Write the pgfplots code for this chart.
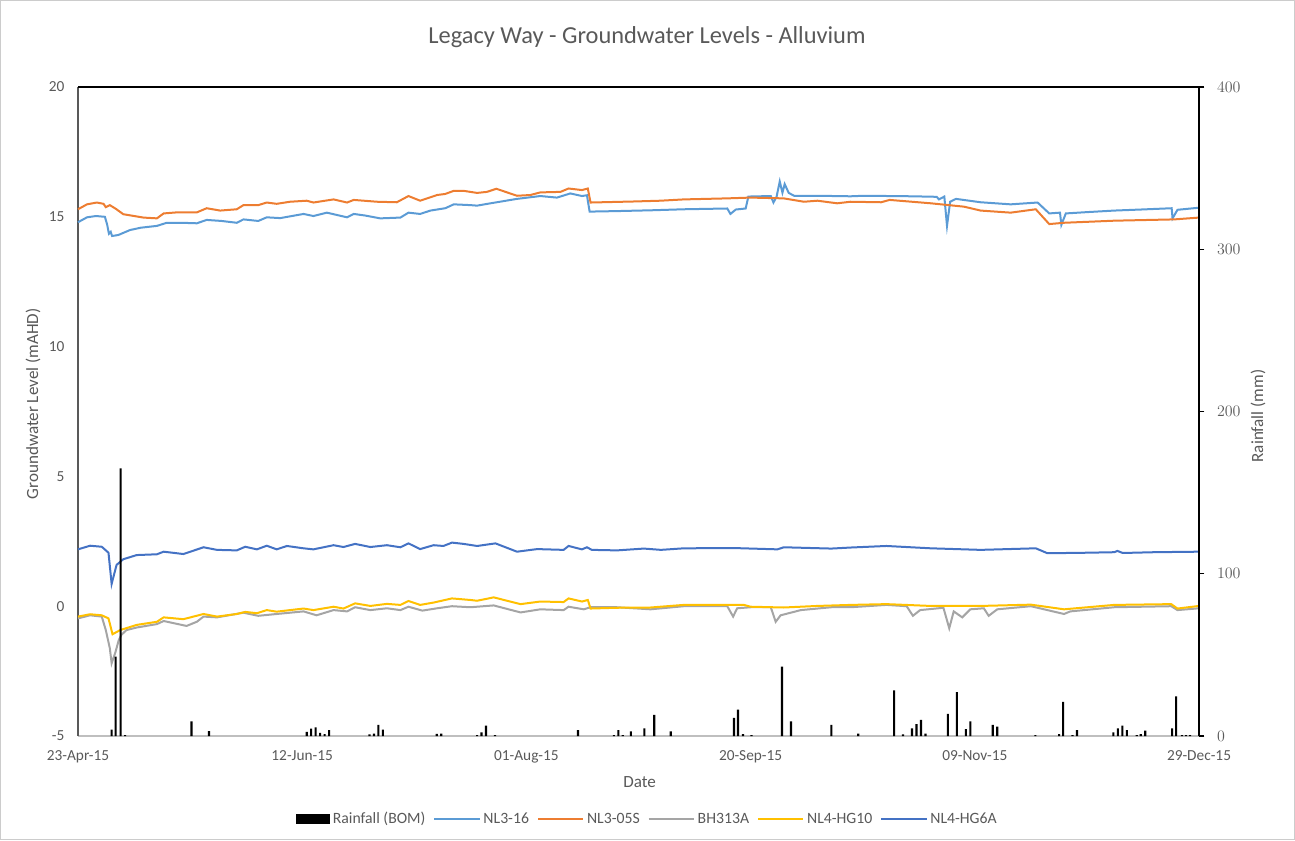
\documentclass[border=0pt]{standalone}
\usepackage{fontspec}
\setmainfont{Carlito}
\usepackage{pgfplots}
\pgfplotsset{compat=1.18}

\definecolor{txt}{HTML}{595959}
\definecolor{cNLa}{HTML}{5B9BD5}
\definecolor{cNLb}{HTML}{ED7D31}
\definecolor{cBH}{HTML}{A5A5A5}
\definecolor{cHGa}{HTML}{FFC000}
\definecolor{cHGb}{HTML}{4472C4}

\pgfplotsset{
  gw/.style={line width=1.5pt},
  lineleg/.style={legend image code/.code={\draw[##1] (0pt,0pt) -- (34pt,0pt);}},
}

\begin{document}
\begin{tikzpicture}
\useasboundingbox (-58.5pt,-78pt) rectangle (912.75pt,552pt);

% groundwater levels, left axis
\begin{axis}[
  scale only axis, width=840.75pt, height=486.75pt,
  xmin=0, xmax=250, ymin=-5, ymax=20,
  axis x line*=bottom, axis y line*=left,
  x axis line style={draw=black!25, line width=0.9pt, -},
  y axis line style={draw=black!65, line width=1pt, -},
  xtick={0,50,100,150,200,250},
  xticklabels={23-Apr-15,12-Jun-15,01-Aug-15,20-Sep-15,09-Nov-15,29-Dec-15},
  ytick={-5,0,5,10,15,20},
  yticklabels={-5,0,5,10,15,20},
  major tick length=0pt,
  tick label style={font=\fontsize{11.5}{13}\selectfont, text=txt},
  xticklabel style={yshift=-7.5pt},
  yticklabel style={xshift=-6.7pt},
  xlabel={Date},
  xlabel style={at={(axis description cs:0.501,-0.0709)}, anchor=center, font=\fontsize{12.8}{14}\selectfont, text=txt},
  ylabel={Groundwater Level (mAHD)},
  ylabel style={at={(axis description cs:-0.0401,0.5116)}, anchor=center, rotate=0, font=\fontsize{12.8}{14}\selectfont, text=txt},
  title={Legacy Way - Groundwater Levels - Alluvium},
  title style={at={(axis description cs:0.5076,1.0647)}, anchor=center, font=\fontsize{18.3}{21}\selectfont, text=txt},
  clip=false,
]
% NL3-16
\addplot[gw, cNLa] coordinates {
(0,14.79) (2,14.98) (4,15.03) (6,15.0) (6.5,14.7) (6.9,14.35) (7.3,14.42) (7.6,14.26) (9,14.3)
(11.6,14.49) (14,14.58) (17.6,14.65) (19.8,14.77) (23,14.77) (26.5,14.75) (28.7,14.88) (32,14.84)
(35.4,14.77) (36.9,14.90) (40.2,14.84) (42.1,14.98) (45.1,14.95) (50.3,15.11) (52.5,15.03)
(55.5,15.16) (60,14.98) (61.5,15.11) (64,15.05) (67.4,14.94) (71.9,14.97) (73.7,15.16) (76.3,15.11)
(78.6,15.24) (81.9,15.33) (83.8,15.48) (87.5,15.45) (89,15.43) (92,15.52) (97.9,15.69)
(103.1,15.80) (106.8,15.74) (109.8,15.90) (112.4,15.80) (113.5,15.83) (114.1,15.20) (120.2,15.22)
(127.7,15.25) (135.1,15.29) (144.8,15.32) (145.5,15.11) (146.7,15.28) (148.9,15.32) (149.5,15.78)
(154.5,15.80) (155.1,15.55) (155.8,15.78) (156.5,16.36) (157.1,15.93) (157.6,16.26) (158.5,15.92)
(159.7,15.81) (164.9,15.81) (172.3,15.79) (175.3,15.81) (181,15.80) (186,15.79) (191.5,15.77)
(192,15.67) (193.2,15.78) (193.8,14.65) (194.5,15.58) (195.8,15.69) (201.3,15.56) (208,15.48)
(214,15.55) (216.6,15.13) (219,15.16) (219.3,14.69) (220.3,15.13) (225,15.18) (231.1,15.24)
(237,15.28) (243.9,15.33) (244.1,14.94) (245.2,15.27) (250,15.35)
};
% NL3-05S
\addplot[gw, cNLb] coordinates {
(0,15.29) (2,15.48) (4.2,15.55) (5.7,15.50) (6.2,15.37) (7.1,15.45) (8.5,15.30) (10.1,15.10)
(14.6,14.97) (17.6,14.94) (19.1,15.13) (22,15.17) (26.5,15.17) (28.7,15.33) (31.7,15.24)
(35.4,15.29) (36.9,15.45) (40.2,15.45) (42.1,15.55) (44.3,15.50) (47.3,15.58) (51,15.62)
(52.5,15.55) (57,15.67) (60,15.55) (61.5,15.65) (66.7,15.58) (71.1,15.56) (73.7,15.80)
(76.3,15.62) (80.1,15.84) (81.9,15.88) (83.8,16.00) (86,16.00) (89,15.92) (91.2,15.96)
(93.3,16.08) (97.9,15.81) (100.9,15.84) (103.1,15.94) (107.6,15.96) (109.4,16.09) (112.4,16.03)
(113.7,16.09) (114.3,15.55) (124,15.59) (129.9,15.62) (135.1,15.67) (144.8,15.71) (150,15.74)
(157.4,15.71) (161.9,15.58) (164.9,15.62) (169.3,15.52) (172.3,15.58) (179.1,15.56) (181,15.65)
(190.2,15.52) (197.6,15.39) (201.3,15.24) (208,15.16) (213.6,15.29) (216.6,14.72) (219.9,14.77)
(231.1,14.85) (244.5,14.90) (250,14.97)
};
% BH313A
\addplot[gw, cBH] coordinates {
(0,-0.47) (2.7,-0.35) (5.3,-0.40) (6.2,-0.92) (7.1,-1.62) (7.5,-2.20) (8.3,-1.80) (9.1,-1.30)
(9.7,-1.10) (10.8,-0.92) (13.1,-0.82) (17.6,-0.69) (19.1,-0.57) (24.2,-0.76) (26.5,-0.60)
(28,-0.40) (31,-0.43) (36.9,-0.25) (40.2,-0.37) (44.3,-0.30) (50.3,-0.20) (53.2,-0.35)
(57,-0.15) (60,-0.20) (61.8,-0.04) (65.2,-0.15) (68.9,-0.08) (71.9,-0.15) (73.7,-0.02)
(76.8,-0.17) (80.1,-0.08) (83.4,0.00) (87.5,-0.04) (92.7,0.03) (98.7,-0.24) (103.1,-0.12)
(108.3,-0.15) (109.4,-0.02) (112.8,-0.12) (114.3,-0.04) (120.2,-0.04) (127.7,-0.12) (135.1,0.00)
(144.8,0.00) (146.1,-0.40) (147,-0.08) (150,-0.04) (154.5,-0.04) (155.6,-0.60) (156.7,-0.35)
(161.2,-0.15) (168,-0.04) (172.3,-0.04) (180.3,0.05) (184.8,0.00) (186.2,-0.37) (187.8,-0.15)
(193,-0.06) (194.3,-0.85) (195.3,-0.20) (197.2,-0.43) (199,-0.12) (202,-0.08) (203.1,-0.37)
(205,-0.12) (212.5,0.00) (219.9,-0.30) (221.3,-0.20) (231.1,-0.04) (243.8,0.00) (245.2,-0.15)
(250,-0.08)
};
% NL4-HG10
\addplot[gw, cHGa] coordinates {
(0,-0.40) (2.7,-0.31) (5.3,-0.35) (6.8,-0.47) (7.7,-1.08) (9.4,-0.92) (13.1,-0.72) (17.6,-0.60)
(19.1,-0.43) (23.5,-0.50) (28,-0.30) (31,-0.40) (35.4,-0.30) (37.3,-0.22) (39.9,-0.27)
(42.1,-0.15) (44.3,-0.21) (50.3,-0.09) (52.5,-0.15) (57,-0.02) (59.2,-0.09) (61.8,0.11)
(65.2,0.01) (68.9,0.09) (71.9,0.05) (73.7,0.20) (76.3,0.05) (79.3,0.14) (83.4,0.30) (87.5,0.24)
(89,0.21) (92.7,0.34) (98.7,0.08) (103.1,0.18) (108.3,0.16) (109.4,0.30) (112.4,0.18)
(113.7,0.24) (114.3,-0.09) (120.2,-0.06) (127.7,-0.05) (135.1,0.05) (148.5,0.05) (150,-0.02)
(157.4,-0.05) (164.9,0.01) (172.3,0.05) (180.3,0.08) (190.2,0.01) (201.3,0.01) (212.5,0.06)
(219.9,-0.12) (231.1,0.05) (243.8,0.08) (245.2,-0.09) (250,0.01)
};
% NL4-HG6A
\addplot[gw, cHGb] coordinates {
(0,2.19) (2.7,2.33) (5.3,2.29) (6.8,2.06) (7.5,0.86) (8.6,1.59) (10.1,1.81) (13.1,1.97)
(17.6,2.00) (19.1,2.10) (23.5,2.01) (28,2.27) (31,2.17) (35.4,2.15) (37.3,2.29) (39.9,2.19)
(42.1,2.33) (44.3,2.19) (46.6,2.32) (50.3,2.23) (52.5,2.19) (57,2.35) (59.2,2.28) (61.8,2.40)
(65.2,2.28) (68.9,2.35) (71.9,2.27) (73.7,2.42) (76.3,2.20) (79.3,2.35) (81.5,2.32) (83.4,2.45)
(86,2.40) (89,2.32) (93.1,2.42) (97.9,2.10) (102.4,2.20) (108.3,2.17) (109.4,2.32) (112.4,2.19)
(113.5,2.27) (114.6,2.17) (120.2,2.15) (126.2,2.22) (130,2.17) (135.1,2.23) (146.3,2.24)
(156,2.19) (157.4,2.27) (168,2.22) (172.3,2.26) (180.3,2.32) (190.2,2.23) (201.3,2.17)
(213.6,2.23) (216.2,2.04) (225,2.06) (231.1,2.08) (231.8,2.13) (233,2.05) (240,2.08) (250,2.10)
};
\end{axis}

% rainfall, right axis
\begin{axis}[
  scale only axis, width=840.75pt, height=486.75pt,
  xmin=0, xmax=250, ymin=0, ymax=400,
  axis x line=none, axis y line*=right,
  y axis line style={draw=black, line width=1.6pt, -},
  ytick={0,100,200,300,400},
  tick align=outside, major tick length=4pt,
  tick style={black, line width=0.8pt},
  yticklabel style={font=\fontsize{11.5}{13}\selectfont, text=txt, xshift=6pt},
  ylabel={Rainfall (mm)},
  ylabel style={at={(axis description cs:1.0526,0.493)}, anchor=center, rotate=0, font=\fontsize{12.8}{14}\selectfont, text=txt},
  legend columns=6,
  legend style={at={(axis description cs:0.508,-0.128)}, anchor=center, draw=none, fill=none,
    font=\fontsize{11.8}{13}\selectfont, text=txt,
    /tikz/every even column/.append style={column sep=4pt}},
  clip=false,
]
\addplot[ybar, bar width=1.6pt, fill=black, draw=none,
  legend image code/.code={\fill[black] (0pt,-3.5pt) rectangle (26pt,3.5pt);}] coordinates {
(7.5,4) (8.4,49) (9.5,165) (10.5,0.5) (25.3,9) (29.2,3) (51,2.5) (52,4.5) (53,5.3) (54,2)
(55,1.2) (56,3.7) (65,1) (66,1.5) (67,6.8) (68,4) (80,1.3) (81,1.5) (89,0.5) (90,2.3) (91,6.4)
(93,0.5) (111.5,3.7) (119.5,0.5) (120.5,3.7) (121.5,0.5) (123.3,2.9) (126.3,4.7) (128.5,13.1)
(132.2,2.9) (146.3,11.1) (147.2,16.2) (148.3,1.2) (150.2,0.5) (157,42.7) (159,9) (168,6.8)
(174,1.5) (182,28.2) (184,1) (186,4.7) (187,7.4) (188,9.9) (189,1.5) (194,13.6) (196,27.1)
(198,4.3) (199,9) (204,6.8) (205,5.8) (213.5,0.5) (218.8,1.2) (219.7,21) (221.8,0.5) (222.8,3.7)
(230.9,2.3) (231.9,4.7) (232.9,6.4) (233.9,3.7) (236.1,0.5) (237,1.2) (238,3.3) (244,4.7)
(244.9,24.4) (246.2,0.5) (247.1,0.5) (248,0.5)
};
\addlegendentry{Rainfall (BOM)}
\addlegendimage{lineleg, line width=1.5pt, cNLa}
\addlegendentry{NL3-16}
\addlegendimage{lineleg, line width=1.5pt, cNLb}
\addlegendentry{NL3-05S}
\addlegendimage{lineleg, line width=1.5pt, cBH}
\addlegendentry{BH313A}
\addlegendimage{lineleg, line width=1.5pt, cHGa}
\addlegendentry{NL4-HG10}
\addlegendimage{lineleg, line width=1.5pt, cHGb}
\addlegendentry{NL4-HG6A}
\draw[black, line width=0.9pt] (rel axis cs:0,1) -- (rel axis cs:1,1);
\end{axis}
\draw[black!20, line width=0.75pt] (-58.1pt,-77.6pt) rectangle (912.35pt,551.6pt);
\end{tikzpicture}
\end{document}
